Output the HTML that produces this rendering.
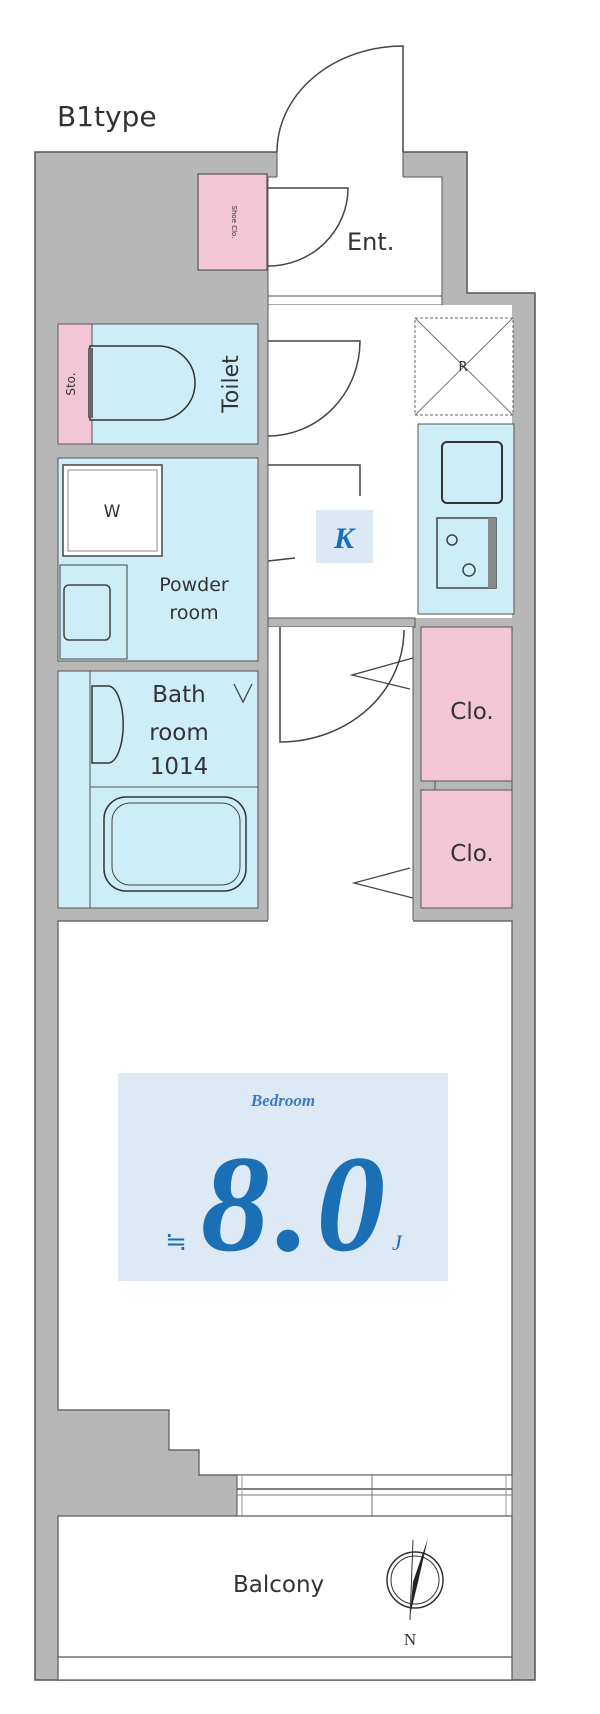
<!DOCTYPE html>
<html><head><meta charset="utf-8"><style>
html,body{margin:0;padding:0;background:#fff;}
svg{display:block;}
text{font-family:"DejaVu Sans","Liberation Sans",sans-serif;fill:#333;}
.s{font-family:"Liberation Serif",serif;}
</style></head><body>
<svg width="600" height="1714" viewBox="0 0 600 1714" xmlns="http://www.w3.org/2000/svg">
<text x="57" y="126" font-size="28">B1type</text>
<polygon points="35,152 467,152 467,293 535,293 535,1680 35,1680" fill="#b7b7b7" stroke="#555" stroke-width="1.5"/>
<rect x="268" y="177" width="174" height="128" fill="#fff" stroke="#555" stroke-width="1"/>
<rect x="277" y="150" width="126" height="30" fill="#fff"/>
<line x1="277" y1="152" x2="277" y2="177" stroke="#555"/>
<line x1="403" y1="152" x2="403" y2="177" stroke="#555"/>
<path d="M403,152 V46 A126 106 0 0 0 277,152" fill="none" stroke="#444" stroke-width="1.5"/>
<rect x="198" y="174" width="69" height="96" fill="#f2c6d4" stroke="#555" stroke-width="1.2"/>
<text x="232" y="222" font-size="7" transform="rotate(90 232 222)" text-anchor="middle" fill="#777">Shoe Clo.</text>
<path d="M268,188 H348 A80 78 0 0 1 268,266" fill="none" stroke="#444" stroke-width="1.5"/>
<text x="347" y="250" font-size="24">Ent.</text>
<line x1="268" y1="296" x2="442" y2="296" stroke="#555"/>
<rect x="268" y="305" width="244" height="313" fill="#fff"/>
<line x1="268" y1="305" x2="268" y2="618" stroke="#555"/>
<rect x="415" y="318" width="98" height="97" fill="#fff" stroke="#666" stroke-dasharray="3,2"/>
<line x1="415" y1="318" x2="513" y2="415" stroke="#777"/><line x1="513" y1="318" x2="415" y2="415" stroke="#777"/>
<text x="463" y="371" font-size="13" text-anchor="middle">R</text>
<rect x="418" y="424" width="96" height="190" fill="#cdeef8" stroke="#555"/>
<rect x="442" y="442" width="60" height="61" rx="5" fill="#cdeef8" stroke="#333" stroke-width="2"/>
<rect x="437" y="518" width="59" height="70" fill="#cdeef8" stroke="#444" stroke-width="1.5"/>
<rect x="488" y="518" width="8" height="70" fill="#888"/>
<circle cx="452" cy="540" r="5" fill="none" stroke="#444" stroke-width="1.5"/>
<circle cx="469" cy="570" r="6" fill="none" stroke="#444" stroke-width="1.5"/>
<rect x="316" y="510" width="57" height="53" fill="#dbe9f5"/>
<text x="344" y="548" font-size="30" class="s" font-style="italic" font-weight="bold" text-anchor="middle" style="fill:#1a6fb5;font-family:'Liberation Serif',serif">K</text>
<rect x="58" y="324" width="200" height="120" fill="#cdeef8" stroke="#555"/>
<rect x="58" y="324" width="34" height="120" fill="#f2c6d4" stroke="#555"/>
<path d="M90,346 H158 A37 37 0 0 1 158,420 H90 Z" fill="#cdeef8" stroke="#333" stroke-width="1.5"/>
<rect x="88" y="348" width="5" height="70" fill="#666"/>
<text x="75" y="384" font-size="12" transform="rotate(-90 75 384)" text-anchor="middle" fill="#555">Sto.</text>
<text x="238" y="384" font-size="22" transform="rotate(-90 238 384)" text-anchor="middle">Toilet</text>
<path d="M268,341 H360 A92 95 0 0 1 268,436" fill="none" stroke="#444" stroke-width="1.5"/>
<rect x="58" y="458" width="200" height="203" fill="#cdeef8" stroke="#555"/>
<rect x="63" y="465" width="99" height="91" fill="#fff" stroke="#444" stroke-width="1.5"/>
<rect x="68" y="470" width="89" height="81" fill="#fff" stroke="#888"/>
<text x="112" y="517" font-size="17" text-anchor="middle">W</text>
<rect x="60" y="565" width="67" height="94" fill="#cdeef8" stroke="#444"/>
<rect x="64" y="585" width="46" height="55" rx="5" fill="#cdeef8" stroke="#444" stroke-width="1.5"/>
<text x="194" y="591" font-size="19" text-anchor="middle">Powder</text>
<text x="194" y="619" font-size="19" text-anchor="middle">room</text>
<path d="M268,465 H360 V496" fill="none" stroke="#444" stroke-width="1.5"/>
<line x1="268" y1="561" x2="295" y2="558" stroke="#444" stroke-width="1.5"/>
<rect x="268" y="618" width="147" height="9" fill="#b7b7b7" stroke="#555"/>
<rect x="58" y="671" width="200" height="237" fill="#cdeef8" stroke="#555"/>
<line x1="90" y1="671" x2="90" y2="908" stroke="#555"/>
<line x1="90" y1="787" x2="258" y2="787" stroke="#555"/>
<path d="M92,686 H108 A15 38 0 0 1 108,763 H92 Z" fill="#cdeef8" stroke="#333" stroke-width="1.5"/>
<rect x="104" y="797" width="142" height="94" rx="22" fill="#cdeef8" stroke="#333" stroke-width="1.5"/>
<rect x="112" y="803" width="128" height="82" rx="18" fill="#cdeef8" stroke="#444"/>
<text x="179" y="702" font-size="23" text-anchor="middle">Bath</text>
<text x="179" y="740" font-size="23" text-anchor="middle">room</text>
<text x="179" y="774" font-size="23" text-anchor="middle">1014</text>
<path d="M234,684 L243,702 L252,684" fill="none" stroke="#444" stroke-width="1.3"/>
<rect x="268" y="627" width="145" height="300" fill="#fff"/>
<line x1="268" y1="627" x2="268" y2="921" stroke="#555"/>
<line x1="413" y1="627" x2="413" y2="921" stroke="#555"/>
<path d="M280,627 V742 A124 112 0 0 0 404,630" fill="none" stroke="#444" stroke-width="1.5"/>
<rect x="421" y="627" width="91" height="154" fill="#f2c6d4" stroke="#555"/>
<rect x="421" y="790" width="91" height="118" fill="#f2c6d4" stroke="#555"/>
<rect x="435" y="781" width="77" height="9" fill="#b7b7b7" stroke="#555"/>
<text x="472" y="719" font-size="23" text-anchor="middle">Clo.</text>
<text x="472" y="861" font-size="23" text-anchor="middle">Clo.</text>
<path d="M413,658 L352,675 L410,689" fill="none" stroke="#444" stroke-width="1.3"/>
<path d="M410,868 L354,883 L413,898" fill="none" stroke="#444" stroke-width="1.3"/>
<polygon points="58,921 512,921 512,1475 237,1475 199,1475 199,1450 169,1450 169,1410 58,1410" fill="#fff" stroke="#555" stroke-width="1.2"/>
<rect x="268" y="920" width="145" height="3" fill="#fff"/>
<rect x="118" y="1073" width="330" height="208" fill="#dde9f5"/>
<text x="283" y="1106" font-size="17" font-style="italic" font-weight="bold" text-anchor="middle" style="fill:#3a7cbf;font-family:'Liberation Serif',serif">Bedroom</text>
<text x="296" y="1250" font-size="138" font-style="italic" font-weight="bold" text-anchor="middle" letter-spacing="6" style="fill:#1a6fb5;font-family:'Liberation Serif',serif">8.0</text>
<text x="176" y="1250" font-size="26" text-anchor="middle" style="fill:#1a6fb5;font-family:'Liberation Serif',serif">≒</text>
<text x="392" y="1250" font-size="22" font-style="italic" style="fill:#1a6fb5;font-family:'Liberation Serif',serif">J</text>
<rect x="237" y="1475" width="275" height="41" fill="#fff" stroke="#555"/>
<line x1="237" y1="1489" x2="512" y2="1489" stroke="#555" stroke-width="1.5"/>
<line x1="237" y1="1495" x2="512" y2="1495" stroke="#777"/>
<line x1="372" y1="1475" x2="372" y2="1516" stroke="#777"/>
<line x1="242" y1="1475" x2="242" y2="1516" stroke="#999"/>
<line x1="506" y1="1475" x2="506" y2="1516" stroke="#999"/>
<rect x="58" y="1516" width="454" height="164" fill="#fff" stroke="#555" stroke-width="1.2"/>
<line x1="58" y1="1657" x2="512" y2="1657" stroke="#555" stroke-width="1.2"/>
<text x="233" y="1592" font-size="23">Balcony</text>
<circle cx="415" cy="1580" r="28" fill="none" stroke="#333" stroke-width="1.5"/>
<circle cx="415" cy="1580" r="24" fill="none" stroke="#333" stroke-width="1"/>
<path d="M428,1538 L418,1582 L410,1615 L413,1582 Z" fill="#222"/>
<line x1="413" y1="1540" x2="410" y2="1620" stroke="#333"/>
<text x="410" y="1645" font-size="17" text-anchor="middle" style="font-family:'Liberation Serif',serif">N</text>
</svg>
</body></html>
